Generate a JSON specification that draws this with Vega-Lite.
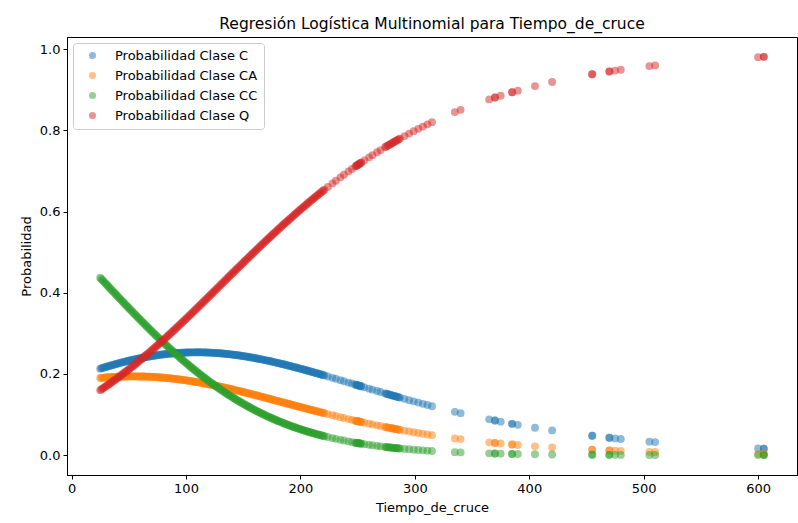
{
  "$schema": "https://vega.github.io/schema/vega-lite/v6.json",
  "autosize": {"type": "none"},
  "padding": {"left": 67, "top": 37, "right": 1, "bottom": 48},
  "width": 730,
  "height": 438,
  "background": "white",
  "title": {"text": "Regresión Logística Multinomial para Tiempo_de_cruce", "font": "DejaVu Sans", "fontSize": 15.5, "fontWeight": "normal", "color": "#000", "anchor": "middle", "offset": 5},
  "data": {"values": [
    {"t":25,"C":0.2129,"CA":0.19,"CC":0.4371,"Q":0.16},
    {"t":27,"C":0.2147,"CA":0.1905,"CC":0.4311,"Q":0.1638},
    {"t":29,"C":0.2164,"CA":0.191,"CC":0.425,"Q":0.1676},
    {"t":31,"C":0.2181,"CA":0.1915,"CC":0.419,"Q":0.1715},
    {"t":33,"C":0.2197,"CA":0.1919,"CC":0.413,"Q":0.1754},
    {"t":35,"C":0.2213,"CA":0.1923,"CC":0.407,"Q":0.1794},
    {"t":37,"C":0.2229,"CA":0.1926,"CC":0.401,"Q":0.1835},
    {"t":39,"C":0.2245,"CA":0.1929,"CC":0.395,"Q":0.1876},
    {"t":41,"C":0.226,"CA":0.1932,"CC":0.3891,"Q":0.1918},
    {"t":43,"C":0.2275,"CA":0.1934,"CC":0.3831,"Q":0.196},
    {"t":45,"C":0.229,"CA":0.1936,"CC":0.3772,"Q":0.2003},
    {"t":47,"C":0.2304,"CA":0.1937,"CC":0.3713,"Q":0.2046},
    {"t":49,"C":0.2318,"CA":0.1939,"CC":0.3654,"Q":0.209},
    {"t":51,"C":0.2331,"CA":0.1939,"CC":0.3595,"Q":0.2134},
    {"t":53,"C":0.2345,"CA":0.194,"CC":0.3537,"Q":0.2179},
    {"t":55,"C":0.2357,"CA":0.194,"CC":0.3478,"Q":0.2224},
    {"t":57,"C":0.237,"CA":0.1939,"CC":0.3421,"Q":0.227},
    {"t":59,"C":0.2382,"CA":0.1939,"CC":0.3363,"Q":0.2317},
    {"t":61,"C":0.2393,"CA":0.1937,"CC":0.3306,"Q":0.2364},
    {"t":63,"C":0.2404,"CA":0.1936,"CC":0.3249,"Q":0.2411},
    {"t":65,"C":0.2415,"CA":0.1934,"CC":0.3192,"Q":0.2459},
    {"t":67,"C":0.2425,"CA":0.1932,"CC":0.3136,"Q":0.2507},
    {"t":69,"C":0.2435,"CA":0.1929,"CC":0.308,"Q":0.2556},
    {"t":71,"C":0.2444,"CA":0.1926,"CC":0.3025,"Q":0.2605},
    {"t":73,"C":0.2453,"CA":0.1923,"CC":0.297,"Q":0.2654},
    {"t":75,"C":0.2461,"CA":0.1919,"CC":0.2915,"Q":0.2704},
    {"t":77,"C":0.247,"CA":0.1915,"CC":0.2861,"Q":0.2755},
    {"t":79,"C":0.2477,"CA":0.1911,"CC":0.2807,"Q":0.2805},
    {"t":81,"C":0.2484,"CA":0.1906,"CC":0.2754,"Q":0.2856},
    {"t":83,"C":0.2491,"CA":0.1901,"CC":0.2701,"Q":0.2908},
    {"t":85,"C":0.2497,"CA":0.1895,"CC":0.2649,"Q":0.296},
    {"t":87,"C":0.2503,"CA":0.1889,"CC":0.2597,"Q":0.3012},
    {"t":89,"C":0.2507,"CA":0.1883,"CC":0.2546,"Q":0.3064},
    {"t":91,"C":0.2512,"CA":0.1876,"CC":0.2495,"Q":0.3117},
    {"t":93,"C":0.2516,"CA":0.1869,"CC":0.2445,"Q":0.317},
    {"t":95,"C":0.252,"CA":0.1862,"CC":0.2395,"Q":0.3223},
    {"t":97,"C":0.2523,"CA":0.1854,"CC":0.2346,"Q":0.3277},
    {"t":99,"C":0.2526,"CA":0.1846,"CC":0.2297,"Q":0.333},
    {"t":101,"C":0.2528,"CA":0.1838,"CC":0.2249,"Q":0.3384},
    {"t":103,"C":0.253,"CA":0.1829,"CC":0.2202,"Q":0.3439},
    {"t":105,"C":0.2532,"CA":0.182,"CC":0.2155,"Q":0.3493},
    {"t":107,"C":0.2532,"CA":0.1811,"CC":0.2109,"Q":0.3548},
    {"t":109,"C":0.2533,"CA":0.1801,"CC":0.2063,"Q":0.3603},
    {"t":111,"C":0.2533,"CA":0.1792,"CC":0.2018,"Q":0.3658},
    {"t":113,"C":0.2532,"CA":0.1781,"CC":0.1974,"Q":0.3713},
    {"t":115,"C":0.2531,"CA":0.1771,"CC":0.193,"Q":0.3768},
    {"t":117,"C":0.2529,"CA":0.176,"CC":0.1887,"Q":0.3823},
    {"t":119,"C":0.2527,"CA":0.1749,"CC":0.1844,"Q":0.3879},
    {"t":121,"C":0.2525,"CA":0.1738,"CC":0.1802,"Q":0.3935},
    {"t":123,"C":0.2522,"CA":0.1727,"CC":0.1761,"Q":0.399},
    {"t":125,"C":0.2518,"CA":0.1715,"CC":0.1721,"Q":0.4046},
    {"t":127,"C":0.2514,"CA":0.1704,"CC":0.1681,"Q":0.4101},
    {"t":129,"C":0.251,"CA":0.1691,"CC":0.1641,"Q":0.4157},
    {"t":131,"C":0.2506,"CA":0.1679,"CC":0.1602,"Q":0.4213},
    {"t":133,"C":0.25,"CA":0.1667,"CC":0.1564,"Q":0.4268},
    {"t":135,"C":0.2495,"CA":0.1654,"CC":0.1527,"Q":0.4324},
    {"t":137,"C":0.2489,"CA":0.1641,"CC":0.149,"Q":0.438},
    {"t":139,"C":0.2482,"CA":0.1628,"CC":0.1454,"Q":0.4436},
    {"t":141,"C":0.2476,"CA":0.1615,"CC":0.1418,"Q":0.4491},
    {"t":143,"C":0.2468,"CA":0.1601,"CC":0.1384,"Q":0.4547},
    {"t":145,"C":0.2461,"CA":0.1588,"CC":0.1349,"Q":0.4602},
    {"t":147,"C":0.2453,"CA":0.1575,"CC":0.1316,"Q":0.4657},
    {"t":149,"C":0.2444,"CA":0.1561,"CC":0.1283,"Q":0.4712},
    {"t":151,"C":0.2436,"CA":0.1547,"CC":0.125,"Q":0.4768},
    {"t":153,"C":0.2427,"CA":0.1533,"CC":0.1219,"Q":0.4822},
    {"t":155,"C":0.2417,"CA":0.1518,"CC":0.1187,"Q":0.4877},
    {"t":157,"C":0.2407,"CA":0.1504,"CC":0.1157,"Q":0.4932},
    {"t":159,"C":0.2397,"CA":0.1489,"CC":0.1127,"Q":0.4986},
    {"t":161,"C":0.2387,"CA":0.1475,"CC":0.1097,"Q":0.5041},
    {"t":163,"C":0.2376,"CA":0.1461,"CC":0.1069,"Q":0.5094},
    {"t":165,"C":0.2365,"CA":0.1446,"CC":0.1041,"Q":0.5149},
    {"t":167,"C":0.2353,"CA":0.1432,"CC":0.1013,"Q":0.5202},
    {"t":169,"C":0.2341,"CA":0.1417,"CC":0.0986,"Q":0.5256},
    {"t":171,"C":0.2329,"CA":0.1402,"CC":0.096,"Q":0.5309},
    {"t":173,"C":0.2317,"CA":0.1387,"CC":0.0934,"Q":0.5362},
    {"t":175,"C":0.2305,"CA":0.1372,"CC":0.0909,"Q":0.5415},
    {"t":177,"C":0.2292,"CA":0.1356,"CC":0.0884,"Q":0.5467},
    {"t":179,"C":0.2279,"CA":0.1342,"CC":0.086,"Q":0.5519},
    {"t":181,"C":0.2266,"CA":0.1327,"CC":0.0836,"Q":0.5571},
    {"t":183,"C":0.2252,"CA":0.1312,"CC":0.0813,"Q":0.5623},
    {"t":185,"C":0.2238,"CA":0.1297,"CC":0.079,"Q":0.5674},
    {"t":187,"C":0.2225,"CA":0.1282,"CC":0.0768,"Q":0.5725},
    {"t":189,"C":0.221,"CA":0.1267,"CC":0.0747,"Q":0.5776},
    {"t":191,"C":0.2196,"CA":0.1252,"CC":0.0726,"Q":0.5826},
    {"t":193,"C":0.2181,"CA":0.1237,"CC":0.0705,"Q":0.5876},
    {"t":195,"C":0.2167,"CA":0.1222,"CC":0.0686,"Q":0.5926},
    {"t":197,"C":0.2152,"CA":0.1207,"CC":0.0666,"Q":0.5975},
    {"t":199,"C":0.2137,"CA":0.1192,"CC":0.0647,"Q":0.6024},
    {"t":201,"C":0.2122,"CA":0.1177,"CC":0.0629,"Q":0.6073},
    {"t":203,"C":0.2106,"CA":0.1162,"CC":0.061,"Q":0.6121},
    {"t":205,"C":0.2091,"CA":0.1148,"CC":0.0592,"Q":0.6169},
    {"t":207,"C":0.2075,"CA":0.1133,"CC":0.0575,"Q":0.6217},
    {"t":209,"C":0.2059,"CA":0.1118,"CC":0.0558,"Q":0.6264},
    {"t":211,"C":0.2043,"CA":0.1104,"CC":0.0542,"Q":0.6311},
    {"t":213,"C":0.2027,"CA":0.1089,"CC":0.0526,"Q":0.6358},
    {"t":215,"C":0.2011,"CA":0.1075,"CC":0.051,"Q":0.6404},
    {"t":217,"C":0.1995,"CA":0.106,"CC":0.0495,"Q":0.6449},
    {"t":219,"C":0.1979,"CA":0.1046,"CC":0.0481,"Q":0.6495},
    {"t":221,"C":0.1963,"CA":0.1031,"CC":0.0466,"Q":0.654},
    {"t":26,"C":0.2138,"CA":0.1903,"CC":0.4341,"Q":0.1619},
    {"t":28,"C":0.2156,"CA":0.1908,"CC":0.428,"Q":0.1657},
    {"t":30,"C":0.2173,"CA":0.1913,"CC":0.422,"Q":0.1696},
    {"t":32,"C":0.2189,"CA":0.1917,"CC":0.416,"Q":0.1735},
    {"t":34,"C":0.2205,"CA":0.1921,"CC":0.41,"Q":0.1774},
    {"t":36,"C":0.2221,"CA":0.1925,"CC":0.404,"Q":0.1815},
    {"t":38,"C":0.2237,"CA":0.1928,"CC":0.398,"Q":0.1855},
    {"t":40,"C":0.2253,"CA":0.1931,"CC":0.392,"Q":0.1897},
    {"t":42,"C":0.2268,"CA":0.1933,"CC":0.3861,"Q":0.1939},
    {"t":44,"C":0.2283,"CA":0.1935,"CC":0.3801,"Q":0.1981},
    {"t":46,"C":0.2297,"CA":0.1937,"CC":0.3742,"Q":0.2024},
    {"t":48,"C":0.2311,"CA":0.1938,"CC":0.3683,"Q":0.2068},
    {"t":50,"C":0.2325,"CA":0.1939,"CC":0.3624,"Q":0.2112},
    {"t":52,"C":0.2338,"CA":0.194,"CC":0.3566,"Q":0.2156},
    {"t":54,"C":0.2351,"CA":0.194,"CC":0.3507,"Q":0.2201},
    {"t":56,"C":0.2364,"CA":0.194,"CC":0.3449,"Q":0.2247},
    {"t":58,"C":0.2376,"CA":0.1939,"CC":0.3392,"Q":0.2293},
    {"t":60,"C":0.2387,"CA":0.1938,"CC":0.3334,"Q":0.234},
    {"t":62,"C":0.2399,"CA":0.1937,"CC":0.3277,"Q":0.2387},
    {"t":64,"C":0.241,"CA":0.1935,"CC":0.322,"Q":0.2435},
    {"t":66,"C":0.242,"CA":0.1933,"CC":0.3164,"Q":0.2483},
    {"t":68,"C":0.243,"CA":0.1931,"CC":0.3108,"Q":0.2531},
    {"t":70,"C":0.244,"CA":0.1928,"CC":0.3052,"Q":0.258},
    {"t":72,"C":0.2449,"CA":0.1925,"CC":0.2997,"Q":0.2629},
    {"t":74,"C":0.2457,"CA":0.1921,"CC":0.2942,"Q":0.2679},
    {"t":76,"C":0.2466,"CA":0.1917,"CC":0.2888,"Q":0.2729},
    {"t":78,"C":0.2474,"CA":0.1913,"CC":0.2834,"Q":0.278},
    {"t":80,"C":0.2481,"CA":0.1908,"CC":0.2781,"Q":0.283},
    {"t":82,"C":0.2488,"CA":0.1904,"CC":0.2727,"Q":0.2882},
    {"t":84,"C":0.2494,"CA":0.1898,"CC":0.2675,"Q":0.2934},
    {"t":86,"C":0.25,"CA":0.1892,"CC":0.2623,"Q":0.2986},
    {"t":88,"C":0.2505,"CA":0.1886,"CC":0.2571,"Q":0.3038},
    {"t":90,"C":0.251,"CA":0.1879,"CC":0.252,"Q":0.309},
    {"t":92,"C":0.2514,"CA":0.1873,"CC":0.247,"Q":0.3143},
    {"t":94,"C":0.2518,"CA":0.1865,"CC":0.242,"Q":0.3197},
    {"t":96,"C":0.2521,"CA":0.1858,"CC":0.237,"Q":0.325},
    {"t":98,"C":0.2524,"CA":0.185,"CC":0.2321,"Q":0.3304},
    {"t":100,"C":0.2527,"CA":0.1842,"CC":0.2273,"Q":0.3357},
    {"t":102,"C":0.2529,"CA":0.1834,"CC":0.2225,"Q":0.3412},
    {"t":104,"C":0.2531,"CA":0.1825,"CC":0.2178,"Q":0.3466},
    {"t":106,"C":0.2532,"CA":0.1816,"CC":0.2132,"Q":0.352},
    {"t":108,"C":0.2532,"CA":0.1806,"CC":0.2086,"Q":0.3575},
    {"t":110,"C":0.2533,"CA":0.1797,"CC":0.204,"Q":0.363},
    {"t":112,"C":0.2533,"CA":0.1787,"CC":0.1996,"Q":0.3685},
    {"t":114,"C":0.2532,"CA":0.1776,"CC":0.1952,"Q":0.374},
    {"t":116,"C":0.253,"CA":0.1766,"CC":0.1909,"Q":0.3796},
    {"t":118,"C":0.2528,"CA":0.1755,"CC":0.1866,"Q":0.3851},
    {"t":120,"C":0.2526,"CA":0.1744,"CC":0.1823,"Q":0.3907},
    {"t":122,"C":0.2524,"CA":0.1733,"CC":0.1782,"Q":0.3962},
    {"t":124,"C":0.252,"CA":0.1721,"CC":0.1741,"Q":0.4018},
    {"t":126,"C":0.2516,"CA":0.171,"CC":0.1701,"Q":0.4073},
    {"t":128,"C":0.2512,"CA":0.1698,"CC":0.1661,"Q":0.4129},
    {"t":130,"C":0.2508,"CA":0.1685,"CC":0.1622,"Q":0.4185},
    {"t":132,"C":0.2503,"CA":0.1673,"CC":0.1583,"Q":0.4241},
    {"t":134,"C":0.2498,"CA":0.166,"CC":0.1545,"Q":0.4296},
    {"t":136,"C":0.2492,"CA":0.1648,"CC":0.1508,"Q":0.4352},
    {"t":138,"C":0.2486,"CA":0.1635,"CC":0.1472,"Q":0.4408},
    {"t":140,"C":0.2479,"CA":0.1621,"CC":0.1436,"Q":0.4464},
    {"t":142,"C":0.2472,"CA":0.1608,"CC":0.1401,"Q":0.4519},
    {"t":144,"C":0.2465,"CA":0.1595,"CC":0.1366,"Q":0.4574},
    {"t":146,"C":0.2457,"CA":0.1581,"CC":0.1332,"Q":0.463},
    {"t":148,"C":0.2449,"CA":0.1568,"CC":0.1299,"Q":0.4685},
    {"t":150,"C":0.244,"CA":0.1554,"CC":0.1267,"Q":0.474},
    {"t":152,"C":0.2431,"CA":0.154,"CC":0.1234,"Q":0.4795},
    {"t":154,"C":0.2422,"CA":0.1525,"CC":0.1203,"Q":0.485},
    {"t":156,"C":0.2412,"CA":0.1511,"CC":0.1172,"Q":0.4905},
    {"t":158,"C":0.2402,"CA":0.1497,"CC":0.1142,"Q":0.4959},
    {"t":160,"C":0.2392,"CA":0.1482,"CC":0.1112,"Q":0.5014},
    {"t":162,"C":0.2381,"CA":0.1468,"CC":0.1083,"Q":0.5068},
    {"t":164,"C":0.237,"CA":0.1454,"CC":0.1055,"Q":0.5121},
    {"t":166,"C":0.2359,"CA":0.1439,"CC":0.1027,"Q":0.5175},
    {"t":168,"C":0.2347,"CA":0.1424,"CC":0.1,"Q":0.5229},
    {"t":170,"C":0.2335,"CA":0.141,"CC":0.0973,"Q":0.5282},
    {"t":172,"C":0.2323,"CA":0.1395,"CC":0.0947,"Q":0.5335},
    {"t":174,"C":0.2311,"CA":0.138,"CC":0.0922,"Q":0.5388},
    {"t":176,"C":0.2298,"CA":0.1364,"CC":0.0896,"Q":0.5441},
    {"t":178,"C":0.2285,"CA":0.1349,"CC":0.0872,"Q":0.5493},
    {"t":180,"C":0.2272,"CA":0.1334,"CC":0.0848,"Q":0.5545},
    {"t":182,"C":0.2259,"CA":0.1319,"CC":0.0825,"Q":0.5597},
    {"t":184,"C":0.2245,"CA":0.1304,"CC":0.0802,"Q":0.5649},
    {"t":186,"C":0.2231,"CA":0.1289,"CC":0.0779,"Q":0.57},
    {"t":188,"C":0.2217,"CA":0.1274,"CC":0.0758,"Q":0.5751},
    {"t":190,"C":0.2203,"CA":0.1259,"CC":0.0736,"Q":0.5801},
    {"t":192,"C":0.2189,"CA":0.1244,"CC":0.0715,"Q":0.5851},
    {"t":194,"C":0.2174,"CA":0.1229,"CC":0.0695,"Q":0.5901},
    {"t":196,"C":0.2159,"CA":0.1214,"CC":0.0676,"Q":0.595},
    {"t":198,"C":0.2144,"CA":0.1199,"CC":0.0656,"Q":0.6},
    {"t":200,"C":0.2129,"CA":0.1184,"CC":0.0638,"Q":0.6049},
    {"t":202,"C":0.2114,"CA":0.1169,"CC":0.0619,"Q":0.6097},
    {"t":204,"C":0.2099,"CA":0.1155,"CC":0.0601,"Q":0.6145},
    {"t":206,"C":0.2083,"CA":0.114,"CC":0.0584,"Q":0.6193},
    {"t":208,"C":0.2067,"CA":0.1125,"CC":0.0566,"Q":0.6241},
    {"t":210,"C":0.2051,"CA":0.1111,"CC":0.055,"Q":0.6288},
    {"t":212,"C":0.2035,"CA":0.1096,"CC":0.0534,"Q":0.6334},
    {"t":214,"C":0.2019,"CA":0.1082,"CC":0.0518,"Q":0.6381},
    {"t":216,"C":0.2003,"CA":0.1067,"CC":0.0502,"Q":0.6427},
    {"t":218,"C":0.1987,"CA":0.1053,"CC":0.0488,"Q":0.6472},
    {"t":220,"C":0.1971,"CA":0.1039,"CC":0.0473,"Q":0.6518},
    {"t":224,"C":0.1938,"CA":0.101,"CC":0.0445,"Q":0.6607},
    {"t":228,"C":0.1904,"CA":0.0983,"CC":0.0419,"Q":0.6694},
    {"t":231,"C":0.188,"CA":0.0962,"CC":0.04,"Q":0.6759},
    {"t":235,"C":0.1846,"CA":0.0935,"CC":0.0376,"Q":0.6843},
    {"t":238,"C":0.1821,"CA":0.0914,"CC":0.0359,"Q":0.6906},
    {"t":242,"C":0.1787,"CA":0.0888,"CC":0.0337,"Q":0.6987},
    {"t":245,"C":0.1763,"CA":0.0868,"CC":0.0321,"Q":0.7048},
    {"t":248,"C":0.1738,"CA":0.0849,"CC":0.0306,"Q":0.7107},
    {"t":249,"C":0.1729,"CA":0.0842,"CC":0.0301,"Q":0.7127},
    {"t":250,"C":0.1721,"CA":0.0836,"CC":0.0297,"Q":0.7146},
    {"t":251,"C":0.1713,"CA":0.083,"CC":0.0292,"Q":0.7165},
    {"t":252,"C":0.1704,"CA":0.0823,"CC":0.0287,"Q":0.7185},
    {"t":253,"C":0.1695,"CA":0.0818,"CC":0.0283,"Q":0.7204},
    {"t":249,"C":0.1729,"CA":0.0842,"CC":0.0301,"Q":0.7127},
    {"t":251,"C":0.1713,"CA":0.083,"CC":0.0292,"Q":0.7165},
    {"t":253,"C":0.1695,"CA":0.0818,"CC":0.0283,"Q":0.7204},
    {"t":256,"C":0.167,"CA":0.0799,"CC":0.027,"Q":0.7261},
    {"t":260,"C":0.1637,"CA":0.0775,"CC":0.0253,"Q":0.7335},
    {"t":263,"C":0.1612,"CA":0.0757,"CC":0.0242,"Q":0.739},
    {"t":267,"C":0.1579,"CA":0.0733,"CC":0.0226,"Q":0.7462},
    {"t":270,"C":0.1554,"CA":0.0716,"CC":0.0216,"Q":0.7514},
    {"t":274,"C":0.1521,"CA":0.0693,"CC":0.0202,"Q":0.7584},
    {"t":275,"C":0.1513,"CA":0.0688,"CC":0.0198,"Q":0.7601},
    {"t":277,"C":0.1497,"CA":0.0677,"CC":0.0192,"Q":0.7634},
    {"t":278,"C":0.1489,"CA":0.0671,"CC":0.0189,"Q":0.7651},
    {"t":280,"C":0.1473,"CA":0.0661,"CC":0.0183,"Q":0.7683},
    {"t":281,"C":0.1465,"CA":0.0655,"CC":0.0179,"Q":0.7701},
    {"t":283,"C":0.1449,"CA":0.0644,"CC":0.0174,"Q":0.7733},
    {"t":284,"C":0.1441,"CA":0.0639,"CC":0.0171,"Q":0.7749},
    {"t":286,"C":0.1425,"CA":0.0629,"CC":0.0166,"Q":0.7781},
    {"t":287,"C":0.1417,"CA":0.0623,"CC":0.0163,"Q":0.7797},
    {"t":276,"C":0.1505,"CA":0.0682,"CC":0.0195,"Q":0.7618},
    {"t":279,"C":0.1481,"CA":0.0666,"CC":0.0186,"Q":0.7667},
    {"t":282,"C":0.1457,"CA":0.065,"CC":0.0177,"Q":0.7716},
    {"t":285,"C":0.1433,"CA":0.0634,"CC":0.0168,"Q":0.7765},
    {"t":291,"C":0.1386,"CA":0.0603,"CC":0.0152,"Q":0.7859},
    {"t":295,"C":0.1354,"CA":0.0583,"CC":0.0143,"Q":0.792},
    {"t":299,"C":0.1324,"CA":0.0563,"CC":0.0133,"Q":0.798},
    {"t":303,"C":0.1293,"CA":0.0545,"CC":0.0125,"Q":0.8037},
    {"t":307,"C":0.1263,"CA":0.0526,"CC":0.0117,"Q":0.8093},
    {"t":311,"C":0.1234,"CA":0.0508,"CC":0.0109,"Q":0.8149},
    {"t":315,"C":0.1205,"CA":0.0491,"CC":0.0102,"Q":0.8202},
    {"t":335,"C":0.1066,"CA":0.0412,"CC":0.0072,"Q":0.845},
    {"t":340,"C":0.1034,"CA":0.0394,"CC":0.0066,"Q":0.8506},
    {"t":365,"C":0.0881,"CA":0.0314,"CC":0.0043,"Q":0.8763},
    {"t":370,"C":0.0852,"CA":0.03,"CC":0.0039,"Q":0.8809},
    {"t":370,"C":0.0852,"CA":0.03,"CC":0.0039,"Q":0.8809},
    {"t":375,"C":0.0824,"CA":0.0286,"CC":0.0036,"Q":0.8854},
    {"t":385,"C":0.0771,"CA":0.026,"CC":0.003,"Q":0.8938},
    {"t":385,"C":0.0771,"CA":0.026,"CC":0.003,"Q":0.8938},
    {"t":390,"C":0.0746,"CA":0.0248,"CC":0.0028,"Q":0.8978},
    {"t":405,"C":0.0674,"CA":0.0216,"CC":0.0021,"Q":0.909},
    {"t":420,"C":0.0608,"CA":0.0187,"CC":0.0016,"Q":0.919},
    {"t":455,"C":0.0476,"CA":0.0133,"CC":0.0009,"Q":0.9383},
    {"t":455,"C":0.0476,"CA":0.0133,"CC":0.0009,"Q":0.9383},
    {"t":470,"C":0.0427,"CA":0.0115,"CC":0.0007,"Q":0.9451},
    {"t":470,"C":0.0427,"CA":0.0115,"CC":0.0007,"Q":0.9451},
    {"t":475,"C":0.0412,"CA":0.0109,"CC":0.0006,"Q":0.9472},
    {"t":480,"C":0.0398,"CA":0.0104,"CC":0.0005,"Q":0.9493},
    {"t":505,"C":0.0332,"CA":0.0081,"CC":0.0003,"Q":0.9583},
    {"t":510,"C":0.032,"CA":0.0077,"CC":0.0003,"Q":0.96},
    {"t":600,"C":0.0165,"CA":0.0031,"CC":0.0001,"Q":0.9803},
    {"t":605,"C":0.0159,"CA":0.003,"CC":0.0001,"Q":0.9811},
    {"t":605,"C":0.0159,"CA":0.003,"CC":0.0001,"Q":0.9811}
  ]},
  "transform": [{"fold": ["C", "CA", "CC", "Q"], "as": ["serie", "p"]}],
  "mark": {"type": "circle", "size": 62, "opacity": 0.5},
  "encoding": {
    "x": {"field": "t", "type": "quantitative", "scale": {"domain": [-4, 634], "nice": false, "zero": false}, "axis": {"title": "Tiempo_de_cruce", "values": [0, 100, 200, 300, 400, 500, 600], "grid": false, "labelFlush": false}},
    "y": {"field": "p", "type": "quantitative", "scale": {"domain": [-0.049, 1.03], "nice": false, "zero": false}, "axis": {"title": "Probabilidad", "values": [0, 0.2, 0.4, 0.6, 0.8, 1.0], "format": ".1f", "grid": false, "labelFlush": false}},
    "color": {"field": "serie", "type": "nominal", "scale": {"domain": ["C", "CA", "CC", "Q"], "range": ["#1f77b4", "#ff7f0e", "#2ca02c", "#d62728"]}, "legend": {"title": null, "labelExpr": "'Probabilidad Clase ' + datum.label", "orient": "top-left", "offset": 6, "symbolType": "circle", "symbolSize": 50, "symbolOpacity": 0.5, "symbolStrokeWidth": 0, "strokeColor": "#cccccc", "fillColor": "rgba(255,255,255,0.8)", "cornerRadius": 3, "padding": 6, "symbolOffset": 7, "labelOffset": 16, "rowPadding": 6, "labelFont": "DejaVu Sans", "labelFontSize": 13, "labelColor": "#000"}},
    "order": {"field": "serie", "sort": "ascending"}
  },
  "config": {
    "view": {"stroke": "#000", "strokeWidth": 1},
    "axis": {"labelFont": "DejaVu Sans", "titleFont": "DejaVu Sans", "labelFontSize": 13, "titleFontSize": 13, "titleFontWeight": "normal", "labelColor": "#000", "titleColor": "#000", "domainColor": "#000", "tickColor": "#000", "tickSize": 4, "labelPadding": 3, "titlePadding": 6, "labelOverlap": false}
  }
}
